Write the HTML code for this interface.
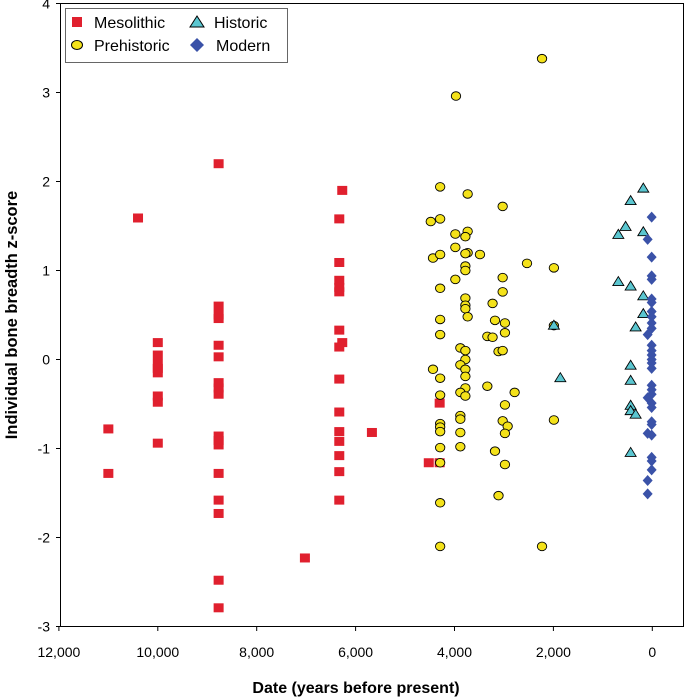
<!DOCTYPE html>
<html><head><meta charset="utf-8"><style>
body{margin:0;background:#fff;}
svg{display:block;font-family:"Liberation Sans",sans-serif;}
</style></head><body>
<svg id="chart" width="685" height="698">
<rect x="60.5" y="3.5" width="623" height="623" fill="none" stroke="#000" stroke-width="1"/>
<g id="axes"></g>
<g id="marks"></g>
<text x="356" y="693" text-anchor="middle" font-size="16" font-weight="bold">Date (years before present)</text>
<text transform="translate(17,315) rotate(-90)" text-anchor="middle" font-size="16.5" font-weight="bold">Individual bone breadth z-score</text>
<g>
<rect x="65.5" y="8.5" width="222" height="54" fill="#fff" stroke="#666"/>
<g><rect x="72" y="17" width="10" height="10" fill="#e0202e"/><text x="94" y="28" font-size="16">Mesolithic</text></g>
<g><path d="M197,16 L204,27 L190,27 Z" fill="#5bc6d0" stroke="#000"/><text x="214" y="28" font-size="16">Historic</text></g>
<g><ellipse cx="77" cy="45" rx="5.5" ry="4.5" fill="#f4e21a" stroke="#000"/><text x="94" y="51" font-size="16">Prehistoric</text></g>
<g><path d="M197,38 L204,45 L197,52 L190,45 Z" fill="#3a52a8"/><text x="216" y="51" font-size="16">Modern</text></g>
</g>
</svg>
<script>
const xTicks=[12000,10000,8000,6000,4000,2000,0];
const xTickLabels=["12,000","10,000","8,000","6,000","4,000","2,000","0"];
const yTicks=[4,3,2,1,0,-1,-2,-3];
const mesoYears=[11000,11000,10400,10000,10000,10000,10000,10000,10000,10000,10000,8770,8770,8770,8770,8770,8770,8770,8770,8770,8770,8770,8770,8770,8770,8770,8770,8770,6330,6330,6330,6330,6330,6330,6330,6330,6330,6330,6330,6330,6330,6330,6270,6270,5670,7025,4300,4300,4520];
const mesoZ=[-0.78,-1.28,1.59,0.19,0.05,-0.05,-0.1,-0.15,-0.41,-0.48,-0.94,2.2,0.6,0.5,0.46,0.16,0.03,-0.26,-0.32,-0.39,-0.86,-0.91,-0.96,-1.28,-1.58,-1.73,-2.48,-2.79,1.58,1.09,0.89,0.81,0.76,0.33,0.14,-0.22,-0.59,-0.81,-0.92,-1.08,-1.26,-1.58,1.9,0.19,-0.82,-2.23,-0.49,-1.16,-1.16];
const preYears=[2230,3970,4290,3734,3026,4480,4290,3983,3734,3780,3983,3734,3780,4435,4290,3485,2534,1990,3780,3780,3983,3026,3026,4290,3780,3780,3780,3230,3734,4290,3181,2980,4290,3336,3230,2980,1990,3882,3780,3110,3026,3780,3882,3780,4435,3780,4290,3336,3780,3882,3780,4290,2784,2980,3882,3882,3026,2925,1990,4290,4290,4290,3882,2980,4290,3882,3181,4290,2980,3110,4290,4290,2230];
const preZ=[3.38,2.96,1.94,1.86,1.72,1.55,1.58,1.41,1.44,1.38,1.26,1.2,1.19,1.14,1.18,1.18,1.08,1.03,1.05,1.0,0.9,0.92,0.76,0.8,0.69,0.61,0.57,0.63,0.48,0.45,0.44,0.41,0.28,0.26,0.25,0.3,0.38,0.13,0.1,0.09,0.1,0.0,-0.06,-0.11,-0.11,-0.19,-0.21,-0.3,-0.32,-0.37,-0.41,-0.4,-0.37,-0.51,-0.63,-0.67,-0.69,-0.75,-0.68,-0.72,-0.76,-0.81,-0.82,-0.83,-0.99,-0.98,-1.03,-1.16,-1.18,-1.53,-1.61,-2.1,-2.1];
const histYears=[182,438,540,687,182,687,438,182,182,337,1990,1860,438,438,438,438,337,438];
const histZ=[1.92,1.78,1.49,1.4,1.43,0.87,0.82,0.71,0.51,0.36,0.38,-0.21,-0.07,-0.24,-0.52,-0.58,-0.62,-1.05];
const modYears=[13,94,13,13,13,13,13,13,13,13,13,94,13,13,13,13,13,13,13,13,13,94,13,13,13,13,94,13,13,13,13,94,94];
const modZ=[1.6,1.35,1.15,0.94,0.9,0.68,0.64,0.54,0.48,0.41,0.35,0.28,0.16,0.1,0.05,0,-0.04,-0.1,-0.29,-0.34,-0.39,-0.43,-0.49,-0.54,-0.7,-0.73,-0.83,-0.85,-1.1,-1.14,-1.24,-1.36,-1.51];

const NS="http://www.w3.org/2000/svg";
const X=v=>652.3-v*0.04945;
const Y=v=>359.5-v*89;
const axes=document.getElementById('axes'), marks=document.getElementById('marks');
function mk(tag,attrs,parent){const e=document.createElementNS(NS,tag);for(const k in attrs)e.setAttribute(k,attrs[k]);parent.appendChild(e);return e;}
xTicks.forEach((t,i)=>{
  const l=mk('line',{x1:X(t),x2:X(t),y1:626.5,y2:631,stroke:'#000'},axes);
  
  
  const tx=mk('text',{x:X(t),y:657,'text-anchor':'middle','font-size':'14'},axes);
  tx.textContent=xTickLabels[i];
  
  
});
yTicks.forEach(t=>{
  const l=mk('line',{x1:56,x2:60.5,y1:Y(t),y2:Y(t),stroke:'#000'},axes);
  
  
  const tx=mk('text',{x:50,y:Y(t)+5,'text-anchor':'end','font-size':'14'},axes);
  tx.textContent=String(t);
  
  
});
mesoYears.forEach((yr,i)=>{
  const e=mk('rect',{x:X(yr)-5,y:Y(mesoZ[i])-4.5,width:10,height:9,fill:'#e0202e'},marks);
  
  
});
preYears.forEach((yr,i)=>{
  const e=mk('ellipse',{cx:X(yr),cy:Y(preZ[i]),rx:4.7,ry:4.3,fill:'#f4e21a',stroke:'#000','stroke-width':0.9},marks);
  
  
});
histYears.forEach((yr,i)=>{
  const cx=X(yr),cy=Y(histZ[i]);
  const e=mk('path',{d:`M${cx},${cy-5.5} L${cx+5.5},${cy+3.5} L${cx-5.5},${cy+3.5} Z`,fill:'#5bc6d0',stroke:'#000','stroke-width':0.9},marks);
  
  
});
modYears.forEach((yr,i)=>{
  const cx=X(yr),cy=Y(modZ[i]);
  const e=mk('path',{d:`M${cx},${cy-5.5} L${cx+5},${cy} L${cx},${cy+5.5} L${cx-5},${cy} Z`,fill:'#3a52a8'},marks);
  
  
});
</script>
</body></html>
